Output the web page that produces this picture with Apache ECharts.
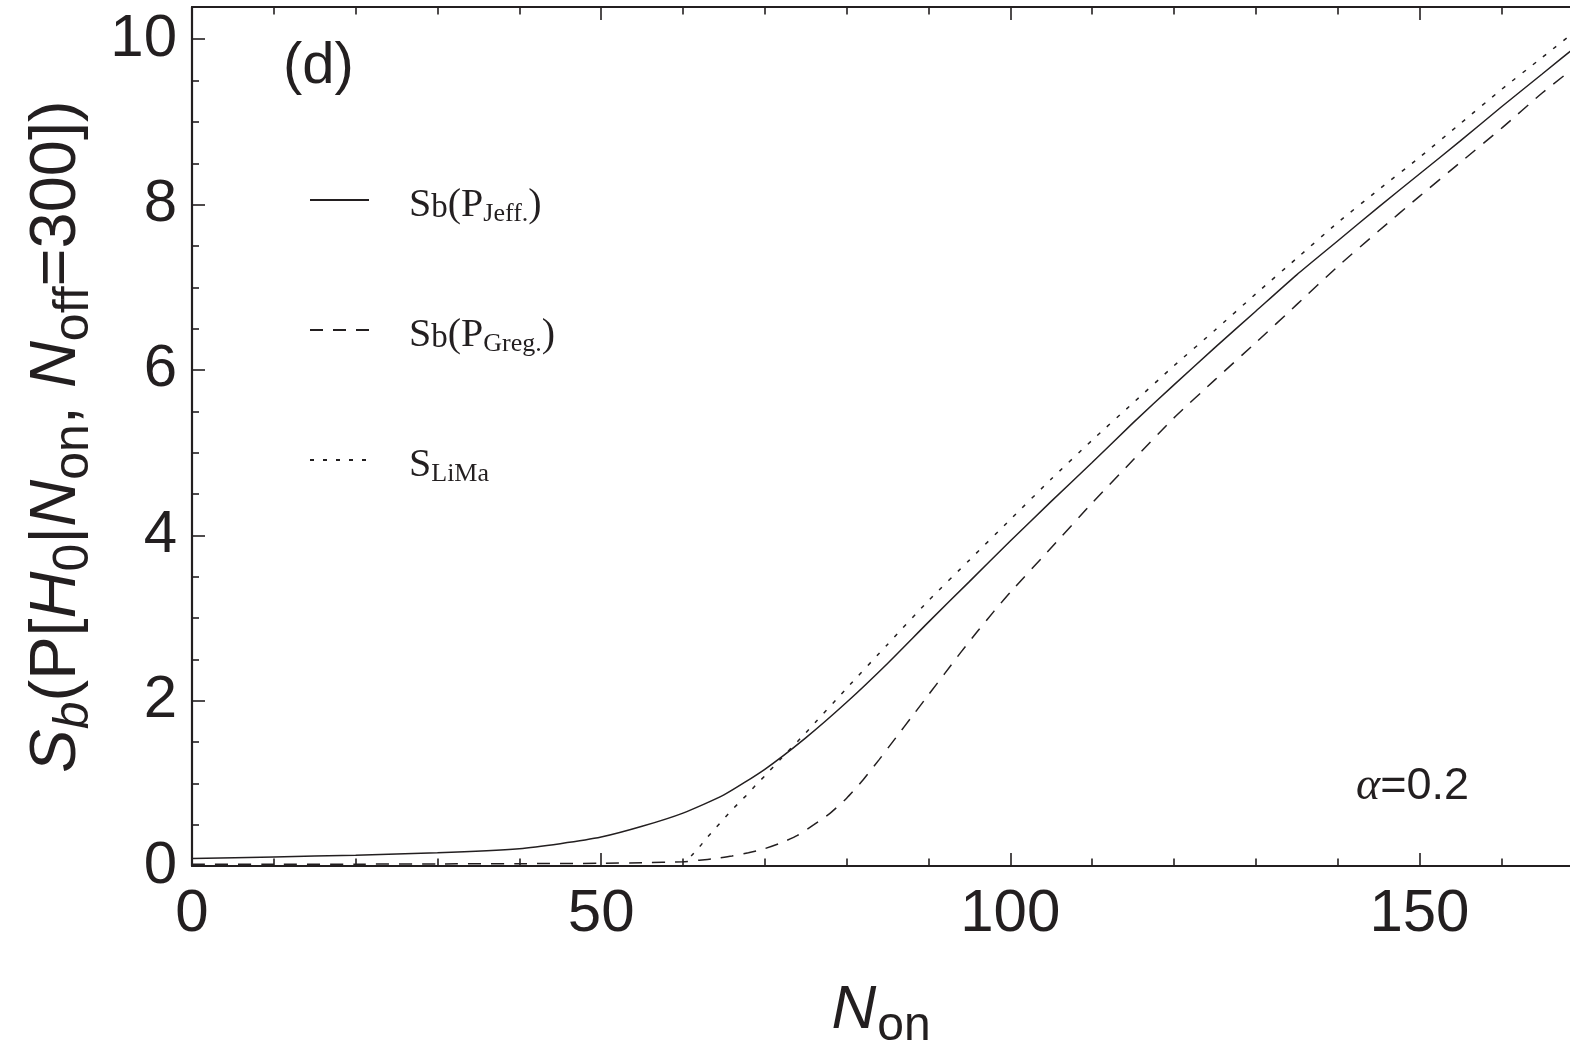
<!DOCTYPE html>
<html><head><meta charset="utf-8">
<script src="https://cdn.jsdelivr.net/npm/echarts@6/dist/echarts.min.js"></script>
<style>html,body{margin:0;padding:0;background:#fff}#c{width:1570px;height:1045px}</style>
</head><body><div id="c"></div>
<script>
// ---- data ----
const nJeff = [0,10,20,30,40,45,50,55,60,65,70,75,80,85,90,95,100,105,110,115,120,125,130,135,140,145,150,155,160,165,170];
const sJeff = [0.09,0.11,0.13,0.16,0.21,0.27,0.35,0.48,0.64,0.86,1.17,1.55,1.98,2.45,2.95,3.44,3.93,4.41,4.88,5.36,5.82,6.27,6.71,7.15,7.56,7.97,8.37,8.77,9.18,9.58,9.98];

const nGreg = [0,10,20,30,40,50,55,60,62,64,66,68,70,72,74,76,78,80,82,84,86,88,90,92,94,96,98,100,105,110,115,120,125,130,135,140,145,150,155,160,165,170];
const sGreg = [0.02,0.02,0.022,0.025,0.028,0.033,0.04,0.05,0.07,0.09,0.12,0.16,0.21,0.28,0.37,0.50,0.64,0.82,1.04,1.29,1.55,1.81,2.07,2.33,2.59,2.84,3.08,3.31,3.85,4.39,4.91,5.42,5.88,6.33,6.79,7.25,7.68,8.10,8.51,8.92,9.35,9.74];

const nLiMa = [61,62,63,64,65,66,67,68,69,70,72,75,80,85,90,95,100,105,110,115,120,125,130,135,140,145,150,155,160,165,170];
const sLiMa = [0.12,0.23,0.35,0.46,0.57,0.68,0.78,0.88,0.99,1.09,1.30,1.61,2.15,2.68,3.21,3.70,4.19,4.68,5.15,5.60,6.05,6.48,6.92,7.35,7.78,8.18,8.57,8.98,9.39,9.78,10.17];

const xMajorTicks = [0,50,100,150];
const xMinorTicks = [10,20,30,40,60,70,80,90,110,120,130,140,160];
const yMajorTicks = [0,2,4,6,8,10];
const yMinorTicks = [0.5,1,1.5,2.5,3,3.5,4.5,5,5.5,6.5,7,7.5,8.5,9,9.5];
const X_MIN = 0, X_MAX = 168.4, Y_MIN = 0, Y_MAX = 10.39;

// ---- chart ----
const INK = '#231f20';
const SANS = '"Liberation Sans", Arial, sans-serif';
const SERIF = '"Liberation Serif", "Times New Roman", serif';

function pairs(xs, ys){ return xs.map((x,i)=>[x, ys[i]]); }

const chart = echarts.init(document.getElementById('c'), null, {renderer:'canvas'});

function xAx(pos, ticks, len, withLine, labels){
  return {
    type:'value', position:pos, min:X_MIN, max:X_MAX, gridIndex:0,
    axisLine:{show:withLine, onZero:false, lineStyle:{color:INK, width:2.2}},
    axisTick:{show:true, inside:true, length:len, customValues:ticks, lineStyle:{color:INK, width:1.6}},
    axisLabel: labels ? {show:true, customValues:ticks, fontFamily:SANS, fontSize:60, color:INK, margin:18} : {show:false},
    splitLine:{show:false}, minorTick:{show:false}
  };
}
function yAx(ticks, len, withLine, labels){
  return {
    type:'value', position:'left', min:Y_MIN, max:Y_MAX, gridIndex:0,
    axisLine:{show:withLine, onZero:false, lineStyle:{color:INK, width:2.2}},
    axisTick:{show:true, inside:true, length:len, customValues:ticks, lineStyle:{color:INK, width:1.6}},
    axisLabel: labels ? {show:true, customValues:ticks, fontFamily:SANS, fontSize:60, color:INK, margin:15} : {show:false},
    splitLine:{show:false}, minorTick:{show:false}
  };
}

const xMain = xAx('bottom', xMajorTicks, 13, true, true);
xMain.name = '{i|N}{sub|on}';
xMain.nameLocation = 'middle';
xMain.nameGap = 114;
xMain.nameTextStyle = {
  color:INK,
  rich:{
    i:{fontFamily:SANS, fontStyle:'italic', fontSize:62, lineHeight:62, verticalAlign:'top', padding:[0,1,0,0], color:INK},
    sub:{fontFamily:SANS, fontSize:48, lineHeight:48, verticalAlign:'top', padding:[23,0,0,0], color:INK}
  }
};

const yMain = yAx(yMajorTicks, 13, true, true);
yMain.name = '{i|S}{isub|b}{n|(P[}{i|H}{sub|0}{n||}{i|N}{sub|on}{n|, }{i|N}{sub|off}{n|=300])}';
yMain.nameLocation = 'middle';
yMain.nameGap = 95;
yMain.nameTextStyle = {
  color:INK,
  rich:{
    n:{fontFamily:SANS, fontSize:65, lineHeight:65, verticalAlign:'top', color:INK},
    i:{fontFamily:SANS, fontStyle:'italic', fontSize:65, lineHeight:65, verticalAlign:'top', color:INK},
    sub:{fontFamily:SANS, fontSize:50, lineHeight:50, verticalAlign:'top', padding:[25,0,0,0], color:INK},
    isub:{fontFamily:SANS, fontStyle:'italic', fontSize:50, lineHeight:50, verticalAlign:'top', padding:[25,0,0,0], color:INK}
  }
};

const legendText = {
  'Jeff':'{S|S}{b|b}{S2|(P}{s|Jeff.}{S2|)}',
  'Greg':'{S|S}{b|b}{S2|(P}{s|Greg.}{S2|)}',
  'LiMa':'{S|S}{s|LiMa}'
};

function lineSeries(name, xs, ys, type){
  return {
    name, type:'line', data:pairs(xs, ys), xAxisIndex:0, yAxisIndex:0,
    symbol:'circle', showSymbol:false, smooth:0.2,
    lineStyle:{color:INK, width:1.5, type:type}, itemStyle:{color:INK},
    emphasis:{disabled:true}, clip:true, z:3
  };
}

chart.setOption({
  animation:false,
  backgroundColor:'#ffffff',
  grid:{left:192, right:0, top:7, bottom:179, containLabel:false, outerBoundsMode:'none'},
  xAxis:[
    xMain,
    xAx('bottom', xMinorTicks, 7.5, false, false),
    xAx('top', xMajorTicks, 13, true, false),
    xAx('top', xMinorTicks, 7.5, false, false)
  ],
  yAxis:[
    yMain,
    yAx(yMinorTicks, 7, false, false)
  ],
  legend:{
    show:true, orient:'vertical', left:309, top:180, padding:0,
    itemWidth:59, itemHeight:14, itemGap:83, selectedMode:false,
    data:['Jeff','Greg','LiMa'],
    itemStyle:{color:'rgba(0,0,0,0)', borderWidth:0, borderColor:'rgba(0,0,0,0)'},
    formatter:(name)=>legendText[name],
    textStyle:{
      color:INK,
      rich:{
        S:{fontFamily:SERIF, fontSize:40, lineHeight:40, verticalAlign:'top', padding:[5,0,0,35], color:INK},
        S2:{fontFamily:SERIF, fontSize:40, lineHeight:40, verticalAlign:'top', padding:[5,0,0,0], color:INK},
        b:{fontFamily:SERIF, fontSize:33, lineHeight:33, verticalAlign:'top', padding:[12,0,0,0], color:INK},
        s:{fontFamily:SERIF, fontSize:26, lineHeight:26, verticalAlign:'top', padding:[21,0,0,0], color:INK}
      }
    }
  },
  graphic:[
    {type:'text', x:283, y:67, z:10,
      style:{text:'(d)', font:'58px "Liberation Sans", Arial, sans-serif', fill:INK,
        verticalAlign:'middle', textVerticalAlign:'middle'}},
    {type:'text', x:1356, y:787, z:10,
      style:{text:'{a|α}{b|=0.2}', fill:INK, verticalAlign:'middle', textVerticalAlign:'middle',
        rich:{
          a:{fontFamily:SERIF, fontStyle:'italic', fontSize:46, fill:INK, color:INK},
          b:{fontFamily:SANS, fontSize:45, fill:INK, color:INK}
        }}}
  ],
  series:[
    lineSeries('Jeff', nJeff, sJeff, 'solid'),
    lineSeries('Greg', nGreg, sGreg, [13,10]),
    lineSeries('LiMa', nLiMa, sLiMa, [4,9])
  ]
});
</script>
</body></html>
